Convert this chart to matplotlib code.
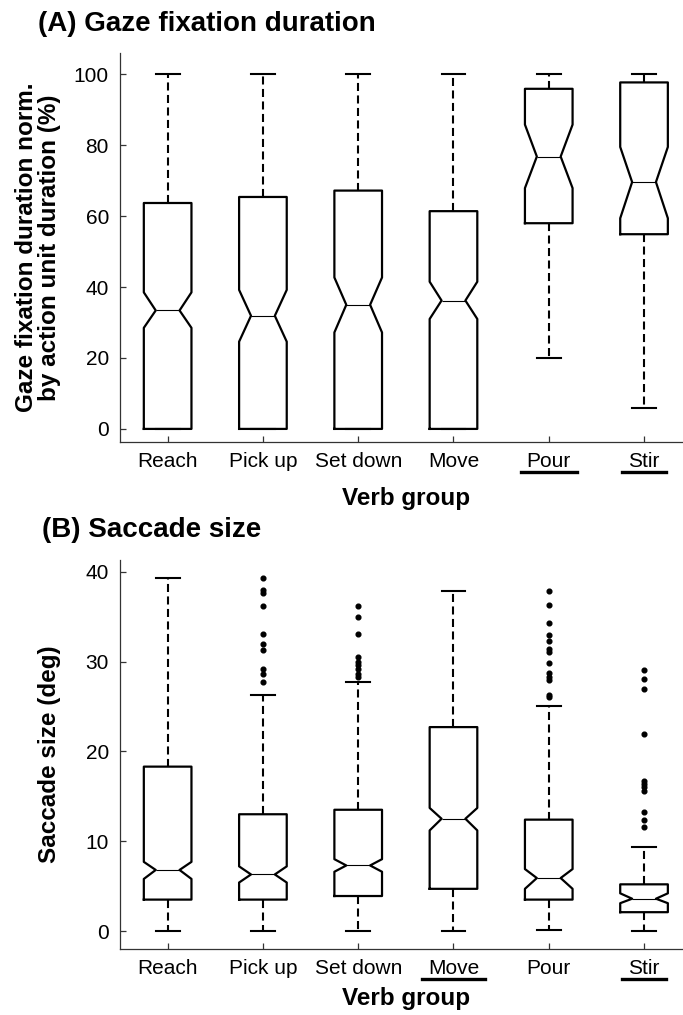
import matplotlib
matplotlib.use('Agg')
import matplotlib.pyplot as plt
from matplotlib.lines import Line2D

plt.rcParams['font.family'] = ['Liberation Sans', 'DejaVu Sans']
plt.rcParams['lines.scale_dashes'] = False

verbs = ['Reach', 'Pick up', 'Set down', 'Move', 'Pour', 'Stir']

# (A) gaze fixation duration, % of action unit duration
gaze_whislo = [0, 0, 0, 0, 20.0, 6.0]
gaze_q1 = [0, 0, 0, 0, 58.0, 54.9]
gaze_cilo = [28.5, 24.6, 27.2, 31.0, 67.9, 59.4]
gaze_med = [33.4, 31.9, 35.0, 36.2, 76.8, 69.6]
gaze_cihi = [38.5, 39.2, 42.7, 41.5, 85.8, 79.5]
gaze_q3 = [63.7, 65.4, 67.2, 61.4, 95.9, 97.7]
gaze_whishi = [100, 100, 100, 100, 100, 100]
gaze_fliers = [[], [], [], [], [], []]
gaze_underlined = ['Pour', 'Stir']

# (B) saccade size, deg
sac_whislo = [0, 0, 0, 0, 0.1, 0]
sac_q1 = [3.5, 3.5, 3.9, 4.7, 3.5, 2.1]
sac_cilo = [5.8, 5.4, 6.6, 11.2, 4.7, 3.1]
sac_med = [6.8, 6.3, 7.3, 12.5, 5.9, 3.6]
sac_cihi = [7.7, 7.2, 8.0, 13.7, 6.9, 4.2]
sac_q3 = [18.3, 13.0, 13.5, 22.7, 12.4, 5.2]
sac_whishi = [39.3, 26.3, 27.7, 37.9, 25.0, 9.3]
sac_fliers = [
    [],
    [39.3, 38.0, 37.6, 36.2, 33.1, 32.0, 31.3, 29.2, 28.6, 27.7],
    [36.2, 35.0, 33.1, 30.5, 30.0, 29.6, 29.2, 28.6, 28.3],
    [],
    [37.9, 36.3, 34.3, 32.9, 32.3, 31.4, 31.1, 29.8, 28.7, 28.3, 27.9, 26.3, 26.0],
    [29.1, 28.0, 26.9, 21.9, 16.7, 16.4, 16.0, 15.6, 13.3, 12.4, 11.6],
]
sac_underlined = ['Move', 'Stir']


def make_stats(whislo, q1, cilo, med, cihi, q3, whishi, fliers):
    stats = []
    for i in range(len(med)):
        stats.append(dict(whislo=whislo[i], q1=q1[i], cilo=cilo[i], med=med[i],
                          cihi=cihi[i], q3=q3[i], whishi=whishi[i],
                          fliers=fliers[i]))
    return stats


def draw_panel(ax, stats, yticks, ylim, ylabel, xpad):
    ax.bxp(stats, positions=range(1, len(stats) + 1), widths=0.5,
           shownotches=True, showfliers=True,
           boxprops=dict(color='black', linewidth=1.6),
           medianprops=dict(color='black', linewidth=0.8),
           whiskerprops=dict(color='black', linewidth=1.5, linestyle=(0, (5.8, 3.2))),
           capprops=dict(color='black', linewidth=1.5),
           flierprops=dict(marker='o', markersize=3.4, markerfacecolor='black',
                           markeredgecolor='black', linestyle='none'))
    ax.set_xlim(0.5, 6.5)
    ax.set_ylim(*ylim)
    ax.set_yticks(yticks)
    ax.set_xticks(range(1, len(verbs) + 1))
    ax.set_xticklabels(verbs)
    for s in ['top', 'right']:
        ax.spines[s].set_visible(False)
    for s in ['left', 'bottom']:
        ax.spines[s].set_linewidth(0.9)
        ax.spines[s].set_color('#333333')
    ax.tick_params(direction='in', length=4, width=0.9, color='#333333',
                   labelsize=15)
    ax.tick_params(axis='x', pad=7)
    ax.tick_params(axis='y', pad=8)
    ax.set_xlabel('Verb group', fontsize=17.5, fontweight='bold', labelpad=xpad)
    ax.set_ylabel(ylabel, fontsize=17.5, fontweight='bold', linespacing=1.0)
    ax.yaxis.set_label_coords(-0.103, 0.5)


fig = plt.figure(figsize=(6.83, 10.15), dpi=100)
axA = fig.add_axes([0.1757, 0.5645, 0.837, 0.3833])
axB = fig.add_axes([0.1757, 0.065, 0.837, 0.3833])

draw_panel(axA, make_stats(gaze_whislo, gaze_q1, gaze_cilo, gaze_med, gaze_cihi,
                           gaze_q3, gaze_whishi, gaze_fliers),
           [0, 20, 40, 60, 80, 100], (-3.7, 106),
           'Gaze fixation duration norm.\nby action unit duration (%)', 12)
draw_panel(axB, make_stats(sac_whislo, sac_q1, sac_cilo, sac_med, sac_cihi,
                           sac_q3, sac_whishi, sac_fliers),
           [0, 10, 20, 30, 40], (-2.0, 41.3), 'Saccade size (deg)', 7)

fig.text(0.056, 0.976, '(A) Gaze fixation duration', fontsize=20,
         fontweight='bold', va='center', ha='left')
fig.text(0.062, 0.478, '(B) Saccade size', fontsize=20,
         fontweight='bold', va='center', ha='left')

# underline the highlighted verb groups
fig.canvas.draw()
renderer = fig.canvas.get_renderer()
W, H = fig.bbox.width, fig.bbox.height
for ax, marked in [(axA, gaze_underlined), (axB, sac_underlined)]:
    for lab in ax.get_xticklabels():
        if lab.get_text() in marked:
            bb = lab.get_window_extent(renderer)
            y = bb.y0 - 1.5
            fig.add_artist(Line2D([(bb.x0 - 6) / W, (bb.x1 + 6) / W],
                                  [y / H, y / H], color='black', linewidth=2.4,
                                  transform=fig.transFigure))

fig.savefig('out.png', dpi=100)
